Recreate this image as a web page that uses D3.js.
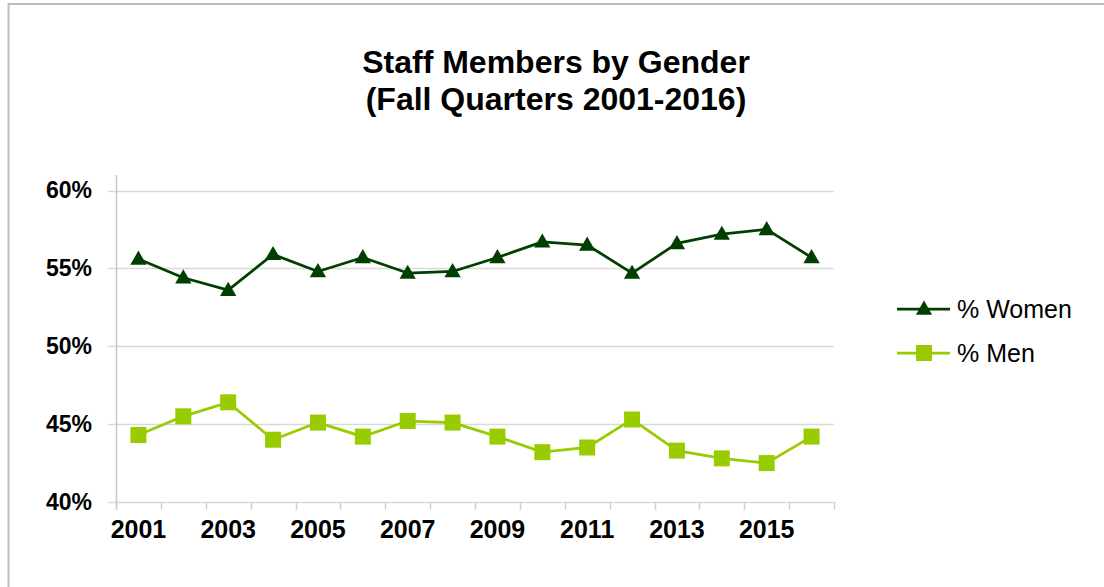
<!DOCTYPE html>
<html>
<head>
<meta charset="utf-8">
<script src="https://cdn.jsdelivr.net/npm/d3@7"></script>
<style>
  body { margin: 0; background: #fff; }
  svg { display: block; font-family: "Liberation Sans", Arial, sans-serif; }
</style>
</head>
<body>
<script>
// chart data
const years = ["2001", "2002", "2003", "2004", "2005", "2006", "2007", "2008",
  "2009", "2010", "2011", "2012", "2013", "2014", "2015", "2016"];
const womenPct = [55.6, 54.4, 53.6, 55.9, 54.8, 55.7, 54.7, 54.8,
  55.7, 56.7, 56.5, 54.7, 56.6, 57.2, 57.5, 55.7];
const menPct = [44.3, 45.5, 46.4, 44.0, 45.1, 44.2, 45.2, 45.1,
  44.2, 43.2, 43.5, 45.3, 43.3, 42.8, 42.5, 44.2];
const yTicks = [40, 45, 50, 55, 60];
const xLabels = ["2001", "2003", "2005", "2007", "2009", "2011", "2013", "2015"];
const titleLines = ["Staff Members by Gender", "(Fall Quarters 2001-2016)"];

const width = 1104;
const height = 587;
const womenColor = "#003f00";
const menColor = "#99cc00";

const svg = d3.select("body")
  .append("svg")
  .attr("width", width)
  .attr("height", height);

// outer chart border (runs off the right and bottom edges)
svg.append("rect")
  .attr("x", 8.5)
  .attr("y", 4)
  .attr("width", 1200)
  .attr("height", 700)
  .attr("fill", "none")
  .attr("stroke", "#bdbdbd")
  .attr("stroke-width", 2);

const x = d3.scaleBand()
  .domain(years)
  .range([116, 834]);

const y = d3.scaleLinear()
  .domain([40, 60])
  .range([502, 190.5]);

// gridlines
svg.append("g")
  .selectAll("line")
  .data(yTicks)
  .enter()
  .append("line")
  .attr("x1", 108)
  .attr("x2", 834)
  .attr("y1", d => Math.round(y(d)) + 0.5)
  .attr("y2", d => Math.round(y(d)) + 0.5)
  .attr("stroke", "#d9d9d9")
  .attr("stroke-width", 1.5);

// y axis labels
const yAxis = svg.append("g")
  .attr("transform", "translate(116,0)")
  .call(d3.axisLeft(y).tickValues(yTicks).tickSize(0).tickPadding(24).tickFormat(d => d + "%"));
yAxis.select(".domain").remove();
yAxis.selectAll("text")
  .attr("font-size", 23)
  .attr("font-weight", "bold")
  .attr("fill", "#000")
  .attr("font-family", "Liberation Sans, Arial, sans-serif");

// vertical axis line
svg.append("line")
  .attr("x1", 116.5)
  .attr("x2", 116.5)
  .attr("y1", 175)
  .attr("y2", 510)
  .attr("stroke", "#c8c8c8")
  .attr("stroke-width", 1.5);

// x axis tick marks at category boundaries
const boundaries = years.map(d => x(d)).concat([x.range()[1]]);
svg.append("g")
  .selectAll("line")
  .data(boundaries)
  .enter()
  .append("line")
  .attr("x1", d => Math.round(d) + 0.5)
  .attr("x2", d => Math.round(d) + 0.5)
  .attr("y1", 502)
  .attr("y2", 510)
  .attr("stroke", "#d0d0d0")
  .attr("stroke-width", 1.5);

// x axis labels
const xAxis = svg.append("g")
  .attr("transform", "translate(0,502)")
  .call(d3.axisBottom(x).tickValues(xLabels).tickSize(0).tickPadding(18));
xAxis.select(".domain").remove();
xAxis.selectAll("text")
  .attr("font-size", 25)
  .attr("font-weight", "bold")
  .attr("fill", "#000")
  .attr("font-family", "Liberation Sans, Arial, sans-serif");

const cx = i => x(years[i]) + x.bandwidth() / 2;

const line = d3.line()
  .x((d, i) => cx(i))
  .y(d => y(d));

const triangle = d3.symbol().type(d3.symbolTriangle).size(115);

// women series
svg.append("path")
  .attr("d", line(womenPct))
  .attr("fill", "none")
  .attr("stroke", womenColor)
  .attr("stroke-width", 2.75)
  .attr("stroke-linejoin", "round");

svg.append("g")
  .selectAll("path")
  .data(womenPct)
  .enter()
  .append("path")
  .attr("d", triangle)
  .attr("transform", (d, i) => "translate(" + cx(i) + "," + (y(d) + 1) + ")")
  .attr("fill", womenColor);

// men series
svg.append("path")
  .attr("d", line(menPct))
  .attr("fill", "none")
  .attr("stroke", menColor)
  .attr("stroke-width", 2.75)
  .attr("stroke-linejoin", "round");

svg.append("g")
  .selectAll("rect")
  .data(menPct)
  .enter()
  .append("rect")
  .attr("x", (d, i) => cx(i) - 8)
  .attr("y", d => y(d) - 8)
  .attr("width", 16)
  .attr("height", 16)
  .attr("fill", menColor);

// title
svg.append("text")
  .attr("text-anchor", "middle")
  .attr("font-size", 32)
  .attr("font-weight", "bold")
  .selectAll("tspan")
  .data(titleLines)
  .enter()
  .append("tspan")
  .attr("x", 556)
  .attr("y", (d, i) => 73 + i * 37)
  .text(d => d);

// legend
const legend = svg.append("g");
const legendItems = [
  { label: "% Women", color: womenColor, marker: "triangle", y: 309 },
  { label: "% Men", color: menColor, marker: "square", y: 353 }
];

legendItems.forEach(item => {
  legend.append("line")
    .attr("x1", 897)
    .attr("x2", 950)
    .attr("y1", item.y)
    .attr("y2", item.y)
    .attr("stroke", item.color)
    .attr("stroke-width", 2.75);
  if (item.marker === "triangle") {
    legend.append("path")
      .attr("d", triangle)
      .attr("transform", "translate(924," + (item.y + 1) + ")")
      .attr("fill", item.color);
  } else {
    legend.append("rect")
      .attr("x", 924 - 8)
      .attr("y", item.y - 8)
      .attr("width", 16)
      .attr("height", 16)
      .attr("fill", item.color);
  }
  legend.append("text")
    .attr("x", 957)
    .attr("y", item.y + 9)
    .attr("font-size", 25)
    .attr("fill", "#000")
    .text(item.label);
});
</script>
</body>
</html>
